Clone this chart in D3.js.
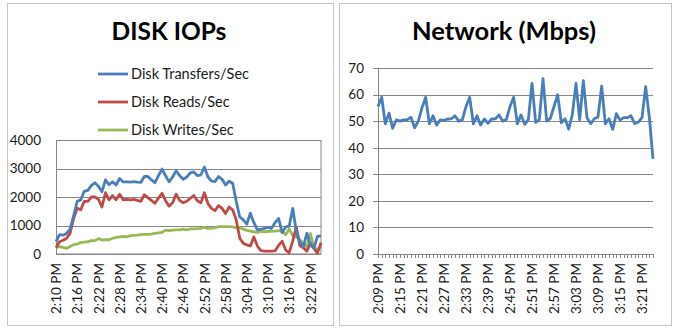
<!DOCTYPE html>
<html><head><meta charset="utf-8">
<script src="https://cdn.jsdelivr.net/npm/d3@7"></script>
<style>
html,body{margin:0;padding:0;background:#fff;}
svg{display:block;font-family:Lato, "Open Sans", sans-serif;}
</style></head>
<body>
<svg id="c" width="675" height="331"></svg>
<script>
const diskTimes = ["2:10 PM","2:11 PM","2:12 PM","2:13 PM","2:14 PM","2:15 PM","2:16 PM","2:17 PM","2:18 PM","2:19 PM",
"2:20 PM","2:21 PM","2:22 PM","2:23 PM","2:24 PM","2:25 PM","2:26 PM","2:27 PM","2:28 PM","2:29 PM",
"2:30 PM","2:31 PM","2:32 PM","2:33 PM","2:34 PM","2:35 PM","2:36 PM","2:37 PM","2:38 PM","2:39 PM",
"2:40 PM","2:41 PM","2:42 PM","2:43 PM","2:44 PM","2:45 PM","2:46 PM","2:47 PM","2:48 PM","2:49 PM",
"2:50 PM","2:51 PM","2:52 PM","2:53 PM","2:54 PM","2:55 PM","2:56 PM","2:57 PM","2:58 PM","2:59 PM",
"3:00 PM","3:01 PM","3:02 PM","3:03 PM","3:04 PM","3:05 PM","3:06 PM","3:07 PM","3:08 PM","3:09 PM",
"3:10 PM","3:11 PM","3:12 PM","3:13 PM","3:14 PM","3:15 PM","3:16 PM","3:17 PM","3:18 PM","3:19 PM",
"3:20 PM","3:21 PM","3:22 PM","3:23 PM","3:24 PM","3:25 PM"];
const diskTickLabels = ["2:10 PM","2:16 PM","2:22 PM","2:28 PM","2:34 PM","2:40 PM","2:46 PM","2:52 PM","2:58 PM","3:04 PM","3:10 PM","3:16 PM","3:22 PM"];
const diskYTicks = [0,1000,2000,3000,4000];

const diskTransfers = [430,680,660,720,880,1350,1850,1900,2200,2230,
2400,2500,2380,2180,2600,2430,2530,2420,2650,2530,
2530,2520,2540,2520,2510,2720,2720,2600,2500,2750,
2980,2750,2530,2700,2920,2750,2620,2700,2850,2880,
2750,2780,3050,2700,2560,2540,2720,2620,2420,2550,
2480,1850,1300,1200,1050,1430,1100,850,870,900,
940,900,1100,1250,750,950,980,1600,800,430,
250,730,320,200,620,640];
const diskReads = [220,430,480,550,730,1250,1600,1550,1850,1850,
2000,2000,1920,1650,2150,1900,2050,1900,2100,1900,
1920,1900,1920,1880,1850,2080,1980,1880,1780,1960,
2130,1870,1680,1800,2100,1880,1800,1850,1950,2050,
1870,1800,2150,1770,1600,1520,1700,1600,1420,1650,
1550,1200,550,380,320,280,600,280,120,100,
100,100,110,300,450,140,50,450,950,300,
220,100,370,200,20,400];
const diskWrites = [230,260,230,200,260,330,350,400,420,430,
470,470,540,490,500,500,550,580,600,620,
600,640,650,660,680,690,690,700,720,740,
760,840,820,840,850,850,870,850,880,880,
890,900,940,900,900,920,960,960,960,960,
950,920,930,870,830,800,780,760,790,780,
790,800,800,820,800,680,880,650,600,500,
380,250,720,200,180,250];

const netTimes = ["2:09 PM","2:10 PM","2:11 PM","2:12 PM","2:13 PM","2:14 PM","2:15 PM","2:16 PM","2:17 PM","2:18 PM",
"2:19 PM","2:20 PM","2:21 PM","2:22 PM","2:23 PM","2:24 PM","2:25 PM","2:26 PM","2:27 PM","2:28 PM",
"2:29 PM","2:30 PM","2:31 PM","2:32 PM","2:33 PM","2:34 PM","2:35 PM","2:36 PM","2:37 PM","2:38 PM",
"2:39 PM","2:40 PM","2:41 PM","2:42 PM","2:43 PM","2:44 PM","2:45 PM","2:46 PM","2:47 PM","2:48 PM",
"2:49 PM","2:50 PM","2:51 PM","2:52 PM","2:53 PM","2:54 PM","2:55 PM","2:56 PM","2:57 PM","2:58 PM",
"2:59 PM","3:00 PM","3:01 PM","3:02 PM","3:03 PM","3:04 PM","3:05 PM","3:06 PM","3:07 PM","3:08 PM",
"3:09 PM","3:10 PM","3:11 PM","3:12 PM","3:13 PM","3:14 PM","3:15 PM","3:16 PM","3:17 PM","3:18 PM",
"3:19 PM","3:20 PM","3:21 PM","3:22 PM","3:23 PM","3:24 PM"];
const netTickLabels = ["2:09 PM","2:15 PM","2:21 PM","2:27 PM","2:33 PM","2:39 PM","2:45 PM","2:51 PM","2:57 PM","3:03 PM","3:09 PM","3:15 PM","3:21 PM"];
const netYTicks = [0,10,20,30,40,50,60,70];
const netMbps = [55.5,59,49,53,47.3,50.5,50,50.5,50.6,51.5,
47.5,50,55,59,49,52,48.5,50.5,50.3,50.8,
50.9,52,50,50.5,55.5,59,49,52,48.5,50.8,
49.2,50.8,50.9,52.3,50,50.6,55.5,59,49,52.3,
48.8,50.6,64.2,49.5,50.6,66,50,51,55.5,60,
49.4,50.9,47,52.5,64.2,50.6,65.2,51.3,49.1,50.9,
51.6,63.2,49,50.9,46.9,52.8,50.4,51.3,51.3,52,
49.1,49.6,51.3,63,51.5,35.8];

const seriesNames = ["Disk Transfers/Sec","Disk Reads/Sec","Disk Writes/Sec"];
const seriesColors = ["#4a7ebb","#be4b48","#98b954"];

const svg = d3.select("#c");
const grid = "#868686";
const txt = "#1a1a1a";
const fmt = d3.format("d");

// panel frames
svg.append("rect").attr("x",7.5).attr("y",3.5).attr("width",326).attr("height",322)
  .attr("fill","#fff").attr("stroke","#c6c6c6");
svg.append("rect").attr("x",339.5).attr("y",3.5).attr("width",332).attr("height",322)
  .attr("fill","#fff").attr("stroke","#c6c6c6");

// ---------- DISK IOPs ----------
{
  const g = svg.append("g");
  const x = d3.scalePoint().domain(diskTimes).range([56,321]);
  const y = d3.scaleLinear().domain([0,4000]).range([254,140]);
  g.append("text").attr("x",169).attr("y",40).attr("text-anchor","middle")
    .attr("font-size",24.5).attr("font-weight","bold").attr("fill","#000").text("DISK IOPs");
  g.append("g").selectAll("line").data(diskYTicks).join("line")
    .attr("x1",56).attr("x2",321).attr("y1",d=>Math.round(y(d))+0.5).attr("y2",d=>Math.round(y(d))+0.5)
    .attr("stroke",grid).attr("stroke-width",1);
  g.append("rect").attr("x",56.5).attr("y",140.5).attr("width",264.5).attr("height",113.5)
    .attr("fill","none").attr("stroke",grid);
  const ya = d3.axisLeft(y).tickValues(diskYTicks).tickFormat(fmt).tickSize(0).tickPadding(0);
  const yg = g.append("g").attr("transform","translate(41,0)").call(ya);
  yg.select(".domain").remove();
  yg.selectAll("text").attr("font-size",13.5).attr("fill",txt).attr("font-family","Lato, sans-serif");
  const xa = d3.axisBottom(x).tickValues(diskTickLabels).tickSize(0).tickPadding(0);
  const xg = g.append("g").attr("transform","translate(0,254)").call(xa);
  xg.select(".domain").remove();
  xg.selectAll("text").attr("font-size",13.5).attr("fill",txt).attr("font-family","Lato, sans-serif")
    .attr("transform","rotate(-90)").attr("text-anchor","end").attr("dy","0.35em").attr("dx","-9").attr("y",0);
  const line = d3.line().x((d,i)=>x(diskTimes[i])).y(d=>y(d));
  [diskWrites, diskReads, diskTransfers].forEach((s,k)=>{
    const ci = [2,1,0][k];
    g.append("path").attr("d",line(s)).attr("fill","none").attr("stroke",seriesColors[ci])
      .attr("stroke-width",2.8).attr("stroke-linejoin","round");
  });
  const lg = g.append("g");
  seriesNames.forEach((n,i)=>{
    const yy = 74 + i*28;
    lg.append("line").attr("x1",98).attr("x2",128).attr("y1",yy).attr("y2",yy)
      .attr("stroke",seriesColors[i]).attr("stroke-width",2.8);
    lg.append("text").attr("x",131).attr("y",yy).attr("dy","0.35em").attr("font-size",14.5)
      .attr("fill",txt).text(n);
  });
}

// ---------- Network ----------
{
  const g = svg.append("g");
  const x = d3.scalePoint().domain(netTimes).range([378,653]);
  const y = d3.scaleLinear().domain([0,70]).range([254,68]);
  g.append("text").attr("x",504).attr("y",40).attr("text-anchor","middle")
    .attr("font-size",25.5).attr("font-weight","bold").attr("fill","#000").text("Network (Mbps)");
  g.append("g").selectAll("line").data(netYTicks).join("line")
    .attr("x1",373).attr("x2",653).attr("y1",d=>Math.round(y(d))+0.5).attr("y2",d=>Math.round(y(d))+0.5)
    .attr("stroke",grid).attr("stroke-width",1);
  g.append("line").attr("x1",378.5).attr("x2",378.5).attr("y1",68).attr("y2",254).attr("stroke",grid);
  g.append("g").selectAll("line").data(netTimes).join("line")
    .attr("x1",d=>Math.round(x(d))+0.5).attr("x2",d=>Math.round(x(d))+0.5).attr("y1",254).attr("y2",258)
    .attr("stroke",grid);
  const ya = d3.axisLeft(y).tickValues(netYTicks).tickFormat(fmt).tickSize(0).tickPadding(0);
  const yg = g.append("g").attr("transform","translate(364,0)").call(ya);
  yg.select(".domain").remove();
  yg.selectAll("text").attr("font-size",13.5).attr("fill",txt).attr("font-family","Lato, sans-serif");
  const xa = d3.axisBottom(x).tickValues(netTickLabels).tickSize(0).tickPadding(0);
  const xg = g.append("g").attr("transform","translate(0,254)").call(xa);
  xg.select(".domain").remove();
  xg.selectAll("text").attr("font-size",13.5).attr("fill",txt).attr("font-family","Lato, sans-serif")
    .attr("transform","rotate(-90)").attr("text-anchor","end").attr("dy","0.35em").attr("dx","-9").attr("y",0);
  const line = d3.line().x((d,i)=>x(netTimes[i])).y(d=>y(d));
  g.append("path").attr("d",line(netMbps)).attr("fill","none").attr("stroke","#4a7ebb")
    .attr("stroke-width",2.8).attr("stroke-linejoin","round");
}
</script>
</body></html>
